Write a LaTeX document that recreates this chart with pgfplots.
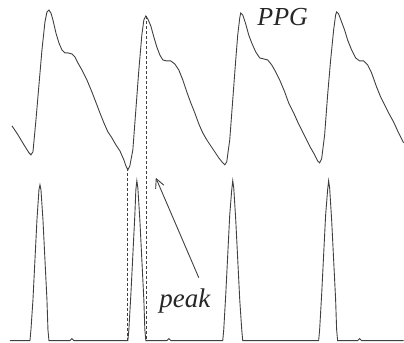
\documentclass[border=0pt]{standalone}
\usepackage{pgfplots}
\pgfplotsset{compat=1.18}
\usepackage{fontspec}
\setmainfont{Liberation Serif}
\usetikzlibrary{arrows.meta}
\definecolor{ln}{HTML}{404040}
\begin{document}
\begin{tikzpicture}
\begin{axis}[width=404pt,height=343pt,scale only axis,hide axis,
  xmin=0,xmax=404,ymin=0,ymax=343,y dir=reverse,clip=false]
\path (rel axis cs:0,0) rectangle (rel axis cs:1,1);
\addplot[ln,line width=0.9pt,no markers] coordinates {
(12,126)(18,135)(24,145)(29,153)(31,155)(33,152)(36,120)(39,85)(42,50)(45,22)(47,12)(49,10)(51,13)(53,20)(56,33)(59,43)(62,50)(65,53)(68,53)(72,54)(75,57)(78,63)(82,70)(87,80)(92,92)(97,105)(100,113)(104,123)(108,132)(112,138)(116,145)(120,151)(124,160)(126,166)(128,170)(130,166)(133,150)(136,110)(139,70)(142,35)(144,20)(146,16)(148,19)(151,26)(154,37)(157,47)(160,55)(163,60)(167,61)(171,61)(175,64)(179,70)(183,80)(187,92)(191,103)(195,113)(199,124)(203,133)(207,140)(211,146)(215,152)(219,158)(223,163)(225,165)(227,162)(230,140)(233,100)(236,60)(238,35)(240,18)(241,13)(243,15)(246,24)(249,35)(252,43)(256,52)(260,58)(264,59)(268,60)(272,65)(276,72)(280,80)(285,92)(289,103)(294,113)(298,122)(302,130)(307,140)(311,148)(315,155)(318,161)(320,163)(322,159)(325,135)(328,95)(331,60)(334,30)(336,15)(337,12)(339,14)(342,22)(345,30)(348,40)(352,50)(356,58)(360,61)(364,61)(368,65)(372,73)(377,87)(381,97)(385,105)(389,113)(394,122)(399,133)(404,143)
};
\addplot[ln,line width=0.9pt,no markers] coordinates {
(10,341)(30,341)(31,330)(33,300)(35,260)(37,220)(39,190)(40,185)(41,190)(43,220)(45,260)(47,300)(48,330)(49,341)
(70,341)(72,339)(74,341)
(128,341)(129,330)(131,295)(133,255)(135,215)(136,190)(137,181)(138,188)(140,220)(142,260)(144,300)(145,330)(146,341)
(167,341)(169,339)(171,341)
(223,341)(224,330)(226,295)(228,255)(230,215)(232,190)(233,181)(234,188)(236,220)(238,260)(240,300)(242,330)(243,341)
(319,341)(320,330)(322,295)(324,255)(326,215)(328,190)(329,181)(330,188)(332,220)(334,260)(336,300)(337,330)(338,341)
(358,341)(360,339)(362,341)(404,341)
};
\addplot[ln,line width=0.6pt,densely dashed,no markers] coordinates {(127.5,168)(127.5,341)};
\addplot[ln,line width=0.6pt,densely dashed,no markers] coordinates {(146,16)(146,341)};
\draw[ln,line width=0.9pt,-{Straight Barb[length=9pt,width=9pt]}] (axis cs:199,278) -- (axis cs:156,178);
\node[font=\fontsize{26}{29}\selectfont\itshape,text=black!85] at (axis cs:283,17) {PPG};
\node[font=\fontsize{27}{30}\selectfont\itshape,text=black!85] at (axis cs:185,301) {peak};
\end{axis}
\end{tikzpicture}
\end{document}
